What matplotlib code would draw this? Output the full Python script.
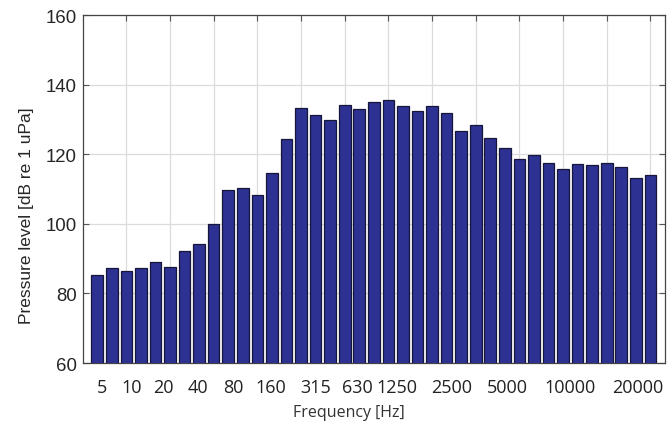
import matplotlib
matplotlib.use("Agg")
import matplotlib.pyplot as plt
import numpy as np

# 1/3-octave band levels, 3.15 Hz ... 20000 Hz (39 bands)
levels = [85.4, 87.2, 86.5, 87.2, 89.0, 87.6, 92.3, 94.1, 99.9, 109.7,
          110.4, 108.3, 114.6, 124.5, 133.3, 131.4, 129.8, 134.1, 132.9, 134.9,
          135.6, 133.8, 132.5, 133.8, 131.9, 126.8, 128.4, 124.8, 121.8, 118.7,
          119.7, 117.6, 115.8, 117.3, 117.0, 117.6, 116.3, 113.3, 113.9]
tick_labels = ["5", "10", "20", "40", "80", "160", "315", "630", "1250",
               "2500", "5000", "10000", "20000"]
y_ticks = [60, 80, 100, 120, 140, 160]

# layout: where the labels sit (in bar-index units) in the reference
label_pos = [0.34, 2.38, 4.52, 6.89, 9.35, 11.94, 14.98, 17.89, 20.56,
             24.33, 28.16, 32.45, 37.10]

x = np.arange(len(levels))

fig = plt.figure(figsize=(6.72, 4.27), dpi=100)
ax = fig.add_axes([0.123, 0.1475, 0.8665, 0.815])

ax.bar(x, levels, width=0.8, color="#2D3191", edgecolor="#15163a",
       linewidth=0.9, zorder=3)

ax.set_xlim(-1, 39)
ax.set_ylim(60, 160)

# major ticks: gridlines every octave (every 3rd band starting at 5 Hz)
ax.set_xticks(x[2::3])
ax.set_xticklabels([])
ax.set_xticks(label_pos, minor=True)
ax.set_xticklabels(tick_labels, minor=True, fontfamily="Open Sans",
                   fontsize=13, color="#222222")
ax.tick_params(axis="x", which="minor", length=0, pad=11)
ax.tick_params(axis="x", which="major", direction="in", length=4,
               top=True, bottom=True, color="#555555")

ax.set_yticks(y_ticks)
ax.set_yticklabels([str(v) for v in y_ticks], fontfamily="Liberation Sans",
                   fontsize=13.4, color="#262626")
ax.tick_params(axis="y", direction="in", length=4, left=True, right=True,
               pad=4, color="#555555")

ax.grid(True, which="major", color="#dcdcdc", linewidth=0.9, zorder=0)
ax.set_axisbelow(True)

for s in ax.spines.values():
    s.set_color("#444444")
    s.set_linewidth(0.9)

ax.set_ylabel("Pressure level [dB re 1 uPa]", fontfamily="Liberation Sans",
              fontsize=12.5, color="#262626")
ax.yaxis.set_label_coords(-0.084, 0.425)
ax.set_xlabel("Frequency [Hz]", fontfamily="Open Sans", fontsize=11.5,
              color="#333333")
ax.xaxis.set_label_coords(0.457, -0.118)

fig.savefig("out.png", dpi=100)
